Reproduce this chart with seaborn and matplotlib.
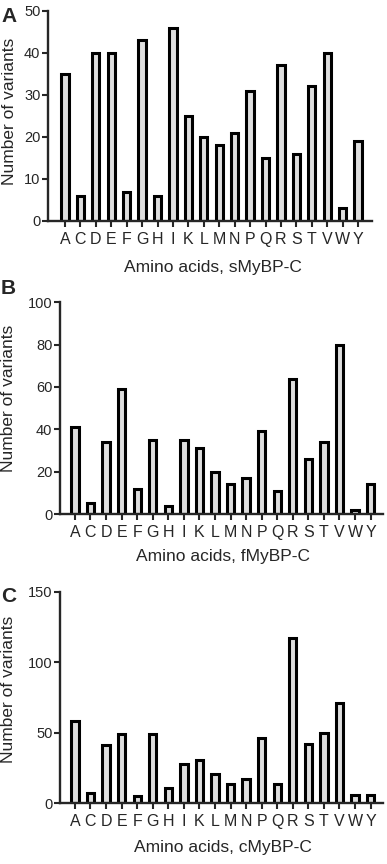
import matplotlib
matplotlib.use("Agg")
import matplotlib.pyplot as plt
import seaborn as sns
import pandas as pd

amino_acids = ["A", "C", "D", "E", "F", "G", "H", "I", "K", "L",
               "M", "N", "P", "Q", "R", "S", "T", "V", "W", "Y"]

# number of variants per amino acid
smybpc = [35, 6, 40, 40, 7, 43, 6, 46, 25, 20, 18, 21, 31, 15, 37, 16, 32, 40, 3, 19]
fmybpc = [41, 5, 34, 59, 12, 35, 4, 35, 31, 20, 14, 17, 39, 11, 64, 26, 34, 80, 2, 14]
cmybpc = [58, 7, 41, 49, 5, 49, 11, 28, 31, 21, 14, 17, 46, 14, 117, 42, 50, 71, 6, 6]

panel_letters = ["A", "B", "C"]
x_labels = ["Amino acids, sMyBP-C", "Amino acids, fMyBP-C", "Amino acids, cMyBP-C"]
y_max = [50, 100, 150]
y_step = [10, 20, 50]

sns.set_style("ticks")
plt.rcParams["font.family"] = ["Liberation Sans", "DejaVu Sans"]

W, H = 387, 864
fig = plt.figure(figsize=(W / 100, H / 100), dpi=100)

# axes boxes in pixels: left, right, top, bottom
boxes = [(48, 372, 10.7, 221), (60, 383, 302.3, 514), (60, 383, 591.7, 803.3)]
xlims = [(-1.1, 19.9), (-0.96, 19.8), (-0.96, 19.8)]
ylab_pos = [(-0.12, 0.52), (-0.158, 0.548), (-0.158, 0.54)]
xlab_pos = [(0.509, -0.223), (0.505, -0.203), (0.505, -0.207)]
letter_y = [16, 289, 596]

all_values = [smybpc, fmybpc, cmybpc]

for i, vals in enumerate(all_values):
    l, r, t, b = boxes[i]
    ax = fig.add_axes([l / W, 1 - b / H, (r - l) / W, (b - t) / H])
    df = pd.DataFrame({"aa": amino_acids, "n": vals})
    sns.barplot(data=df, x="aa", y="n", color="#dedede", saturation=1,
                edgecolor="black", linewidth=2.2, width=0.47, ax=ax)
    ax.set_xlim(*xlims[i])
    ax.set_ylim(0, y_max[i])
    ax.set_yticks(range(0, y_max[i] + 1, y_step[i]))
    sns.despine(ax=ax)
    for s in ["left", "bottom"]:
        ax.spines[s].set_linewidth(1.7)
    ax.tick_params(axis="x", length=4.5, width=1.5, pad=3.5, labelsize=11.5)
    ax.tick_params(axis="y", length=4.5, width=1.5, pad=1, labelsize=10.5)
    ax.set_xlabel(x_labels[i], fontsize=12.5)
    ax.set_ylabel("Number of variants", fontsize=12.5)
    ax.xaxis.set_label_coords(*xlab_pos[i])
    ax.xaxis.label.set_va("center")
    ax.yaxis.set_label_coords(*ylab_pos[i])
    ax.yaxis.label.set_va("center")
    ax.set_facecolor("white")

    # panel letter
    fig.text(1 / W, 1 - letter_y[i] / H, panel_letters[i], fontsize=15,
             fontweight="bold", va="center")

plt.savefig("out.png", dpi=100, facecolor="white")
